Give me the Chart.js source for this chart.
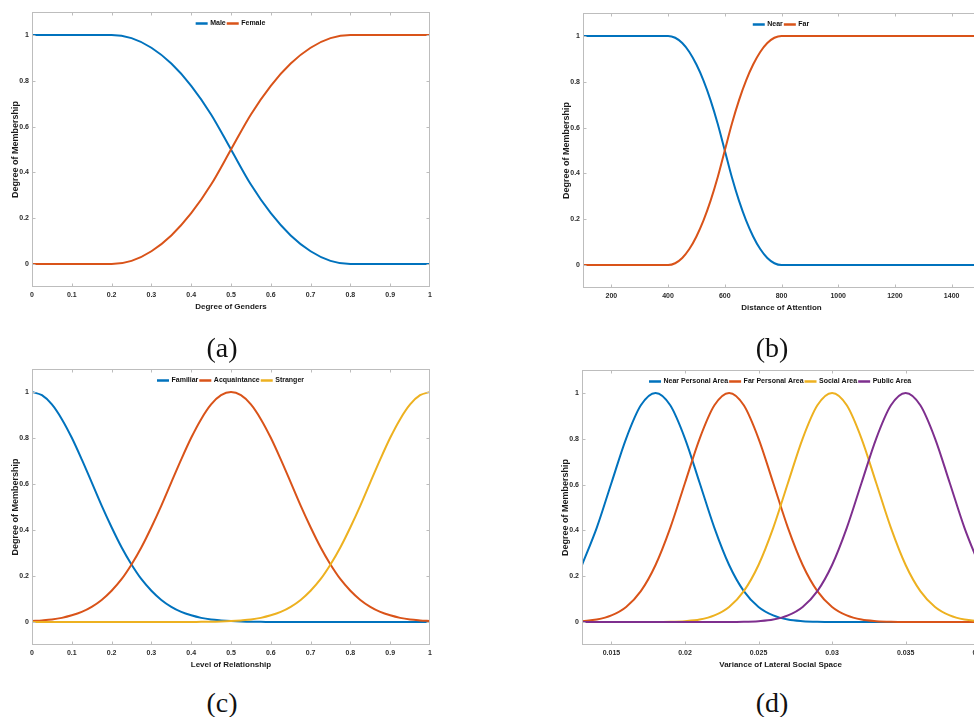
<!DOCTYPE html>
<html>
<head>
<meta charset="utf-8">
<script src="https://cdn.jsdelivr.net/npm/chart.js@4.4.1/dist/chart.umd.min.js"></script>
<style>
  html, body { margin: 0; padding: 0; background: #fff; }
  body { width: 974px; height: 717px; position: relative; overflow: hidden; }
  .box { position: absolute; }
  .cap { position: absolute; font-family: "Liberation Serif", "Times New Roman", serif; font-size: 28px; line-height: 32px; color: #111; transform: translateX(-50%); }
</style>
</head>
<body>
<div class="box" style="left:0px;top:0px;width:440px;height:320px"><canvas id="chartA"></canvas></div>
<div class="box" style="left:540px;top:0px;width:450px;height:321px"><canvas id="chartB"></canvas></div>
<div class="box" style="left:0px;top:360px;width:440px;height:318px"><canvas id="chartC"></canvas></div>
<div class="box" style="left:540px;top:360px;width:450px;height:318px"><canvas id="chartD"></canvas></div>
<div class="cap" style="left:222px;top:332px">(a)</div>
<div class="cap" style="left:772px;top:332px">(b)</div>
<div class="cap" style="left:222px;top:687px">(c)</div>
<div class="cap" style="left:772px;top:687px">(d)</div>
<script>
// matlab default colours
const blue = "#0072BD";
const orange = "#D95319";
const yellow = "#EDB120";
const purple = "#7E2F8E";

const yTicks = [0, 0.2, 0.4, 0.6, 0.8, 1];

// (a) gender
const genderX = [0, 0.05, 0.1, 0.15, 0.2, 0.25, 0.3, 0.35, 0.4, 0.45, 0.5, 0.55, 0.6, 0.65, 0.7, 0.75, 0.8, 0.85, 0.9, 0.95, 1];
const male = [1, 1, 1, 1, 1, 0.986, 0.944, 0.875, 0.778, 0.653, 0.5, 0.347, 0.222, 0.125, 0.056, 0.014, 0, 0, 0, 0, 0];
const female = [0, 0, 0, 0, 0, 0.014, 0.056, 0.125, 0.222, 0.347, 0.5, 0.653, 0.778, 0.875, 0.944, 0.986, 1, 1, 1, 1, 1];
const genderTicks = [0, 0.1, 0.2, 0.3, 0.4, 0.5, 0.6, 0.7, 0.8, 0.9, 1];

// (b) attention distance
const distX = [100, 250, 400, 425, 450, 475, 500, 525, 550, 575, 600, 625, 650, 675, 700, 725, 750, 775, 800, 1000, 1500];
const near = [1, 1, 1, 0.992, 0.969, 0.930, 0.875, 0.805, 0.719, 0.617, 0.5, 0.383, 0.281, 0.195, 0.125, 0.070, 0.031, 0.008, 0, 0, 0];
const far = [0, 0, 0, 0.008, 0.031, 0.070, 0.125, 0.195, 0.281, 0.383, 0.5, 0.617, 0.719, 0.805, 0.875, 0.930, 0.969, 0.992, 1, 1, 1];
const distTicks = [200, 400, 600, 800, 1000, 1200, 1400];

// (c) relationship
const relX = [0, 0.025, 0.05, 0.075, 0.1, 0.125, 0.15, 0.175, 0.2, 0.225, 0.25, 0.275, 0.3, 0.325, 0.35, 0.375, 0.4,
              0.425, 0.45, 0.475, 0.5, 0.525, 0.55, 0.575, 0.6, 0.625, 0.65, 0.675, 0.7, 0.725, 0.75, 0.775, 0.8,
              0.825, 0.85, 0.875, 0.9, 0.925, 0.95, 0.975, 1];
const familiar = [1, 0.986, 0.946, 0.882, 0.801, 0.707, 0.607, 0.506, 0.412, 0.325, 0.25, 0.186, 0.136, 0.096, 0.066, 0.044, 0.029,
                  0.018, 0.011, 0.007, 0.004, 0.002, 0.001, 0.001, 0, 0, 0, 0, 0, 0, 0, 0, 0,
                  0, 0, 0, 0, 0, 0, 0, 0];
const acquaintance = [0.004, 0.007, 0.011, 0.018, 0.029, 0.044, 0.066, 0.096, 0.136, 0.186, 0.25, 0.325, 0.412, 0.506, 0.607, 0.707, 0.801,
                      0.882, 0.946, 0.986, 1, 0.986, 0.946, 0.882, 0.801, 0.707, 0.607, 0.506, 0.412, 0.325, 0.25, 0.186, 0.136,
                      0.096, 0.066, 0.044, 0.029, 0.018, 0.011, 0.007, 0.004];
const stranger = [0, 0, 0, 0, 0, 0, 0, 0, 0, 0, 0, 0, 0, 0, 0, 0, 0,
                  0.001, 0.001, 0.002, 0.004, 0.007, 0.011, 0.018, 0.029, 0.044, 0.066, 0.096, 0.136, 0.186, 0.25, 0.325, 0.412,
                  0.506, 0.607, 0.707, 0.801, 0.882, 0.946, 0.986, 1];
const relTicks = [0, 0.1, 0.2, 0.3, 0.4, 0.5, 0.6, 0.7, 0.8, 0.9, 1];

// (d) lateral social space
const spaceX = [0.013, 0.014, 0.015, 0.016, 0.017, 0.018, 0.019, 0.020, 0.021, 0.022, 0.023, 0.024, 0.025, 0.026,
                0.027, 0.028, 0.029, 0.030, 0.031, 0.032, 0.033, 0.034, 0.035, 0.036, 0.037, 0.038, 0.039, 0.040];
const nearPersonal = [0.249, 0.411, 0.607, 0.801, 0.946, 1, 0.946, 0.801, 0.607, 0.411, 0.249, 0.135, 0.066, 0.029,
                      0.011, 0.004, 0.001, 0, 0, 0, 0, 0, 0, 0, 0, 0, 0, 0];
const farPersonal = [0.004, 0.011, 0.029, 0.066, 0.135, 0.249, 0.411, 0.607, 0.801, 0.946, 1, 0.946, 0.801, 0.607,
                     0.411, 0.249, 0.135, 0.066, 0.029, 0.011, 0.004, 0.001, 0, 0, 0, 0, 0, 0];
const socialArea = [0, 0, 0, 0, 0, 0, 0.001, 0.004, 0.011, 0.029, 0.066, 0.135, 0.249, 0.411,
                    0.607, 0.801, 0.946, 1, 0.946, 0.801, 0.607, 0.411, 0.249, 0.135, 0.066, 0.029, 0.011, 0.004];
const publicArea = [0, 0, 0, 0, 0, 0, 0, 0, 0, 0, 0, 0.001, 0.004, 0.011,
                    0.029, 0.066, 0.135, 0.249, 0.411, 0.607, 0.801, 0.946, 1, 0.946, 0.801, 0.607, 0.411, 0.249];
const spaceTicks = [0.015, 0.02, 0.025, 0.03, 0.035, 0.04];

const sans = "'Liberation Sans', Arial, sans-serif";
const txt = "#2b2b2b";
const boxColor = "#bdbdbd";

// legend sits inside the axes box, like matlab 'north'
const legendInside = {
    id: "legendInside",
    afterLayout(chart) {
        const lg = chart.legend;
        const ca = chart.chartArea;
        lg.left = ca.left; lg.right = ca.right; lg.width = ca.right - ca.left;
        lg.top = ca.top + 6; lg.height = 18; lg.bottom = lg.top + 18;
    }
};

// box around the axes with inward ticks on all four sides
const matlabBox = {
    id: "matlabBox",
    afterDatasetsDraw(chart) {
        const {ctx, chartArea: ca, scales} = chart;
        const tl = 3.5;
        ctx.save();
        ctx.strokeStyle = boxColor;
        ctx.lineWidth = 1;
        ctx.strokeRect(ca.left + 0.5, ca.top + 0.5, ca.right - ca.left - 1, ca.bottom - ca.top - 1);
        ctx.beginPath();
        scales.x.ticks.forEach(t => {
            const px = Math.round(scales.x.getPixelForValue(t.value)) + 0.5;
            if (px < ca.left + 1 || px > ca.right - 1) return;
            ctx.moveTo(px, ca.bottom); ctx.lineTo(px, ca.bottom - tl);
            ctx.moveTo(px, ca.top); ctx.lineTo(px, ca.top + tl);
        });
        scales.y.ticks.forEach(t => {
            const py = Math.round(scales.y.getPixelForValue(t.value)) + 0.5;
            ctx.moveTo(ca.left, py); ctx.lineTo(ca.left + tl, py);
            ctx.moveTo(ca.right, py); ctx.lineTo(ca.right - tl, py);
        });
        ctx.stroke();
        ctx.restore();
    }
};

const fmt = v => String(+Number(v).toFixed(4));

function makeChart(id, xs, series, xTicks, xMin, xMax, xTitle, pad) {
    const n = series.length;
    return new Chart(document.getElementById(id), {
        type: "line",
        data: {
            datasets: series.map((s, i) => ({
                label: s.label,
                data: xs.map((x, j) => ({x: x, y: s.data[j]})),
                borderColor: s.color,
                backgroundColor: s.color,
                borderWidth: 2,
                pointRadius: 0,
                cubicInterpolationMode: "monotone",
                order: n - i,
            }))
        },
        options: {
            responsive: true,
            maintainAspectRatio: false,
            animation: false,
            layout: { padding: pad, autoPadding: false },
            plugins: {
                tooltip: { enabled: false },
                legend: {
                    position: "top",
                    align: "center",
                    maxHeight: 1,
                    labels: {
                        color: "#111",
                        font: { family: sans, size: 7, weight: "bold" },
                        boxWidth: 10,
                        boxHeight: 0.5,
                        padding: 2,
                        sort: (a, b) => a.datasetIndex - b.datasetIndex,
                    }
                }
            },
            scales: {
                x: {
                    type: "linear",
                    min: xMin,
                    max: xMax,
                    afterBuildTicks: s => { s.ticks = xTicks.map(v => ({value: v})); },
                    afterFit: s => { s.height = 33; },
                    grid: { display: false, drawTicks: false },
                    border: { display: false },
                    ticks: {
                        autoSkip: false,
                        maxRotation: 0,
                        padding: 4,
                        color: txt,
                        font: { family: sans, size: 7, weight: "bold" },
                        callback: fmt,
                    },
                    title: {
                        display: true,
                        text: xTitle,
                        color: "#1a1a1a",
                        font: { family: sans, size: 8, weight: "bold" },
                        padding: { top: 0, bottom: 8 },
                    }
                },
                y: {
                    min: -0.1,
                    max: 1.1,
                    afterBuildTicks: s => { s.ticks = yTicks.map(v => ({value: v})); },
                    afterFit: s => { s.width = 32; },
                    grid: { display: false, drawTicks: false },
                    border: { display: false },
                    ticks: {
                        padding: 3,
                        color: txt,
                        font: { family: sans, size: 7, weight: "bold" },
                        callback: fmt,
                    },
                    title: {
                        display: true,
                        text: "Degree of Membership",
                        color: "#1a1a1a",
                        font: { family: sans, size: 9, weight: "bold" },
                        padding: { top: 10, bottom: 0 },
                    }
                }
            }
        },
        plugins: [legendInside, matlabBox]
    });
}

makeChart("chartA", genderX, [
    {label: "Male", data: male, color: blue},
    {label: "Female", data: female, color: orange},
], genderTicks, 0, 1, "Degree of Genders", {left: 0, right: 10, top: 11, bottom: 0});

makeChart("chartB", distX, [
    {label: "Near", data: near, color: blue},
    {label: "Far", data: far, color: orange},
], distTicks, 100, 1500, "Distance of Attention", {left: 11, right: 10, top: 12, bottom: 0});

makeChart("chartC", relX, [
    {label: "Familiar", data: familiar, color: blue},
    {label: "Acquaintance", data: acquaintance, color: orange},
    {label: "Stranger", data: stranger, color: yellow},
], relTicks, 0, 1, "Level of Relationship", {left: 0, right: 10, top: 8, bottom: 0});

makeChart("chartD", spaceX, [
    {label: "Near Personal Area", data: nearPersonal, color: blue},
    {label: "Far Personal Area", data: farPersonal, color: orange},
    {label: "Social Area", data: socialArea, color: yellow},
    {label: "Public Area", data: publicArea, color: purple},
], spaceTicks, 0.013, 0.04, "Variance of Lateral Social Space", {left: 10, right: 10, top: 9, bottom: 0});
</script>
</body>
</html>
